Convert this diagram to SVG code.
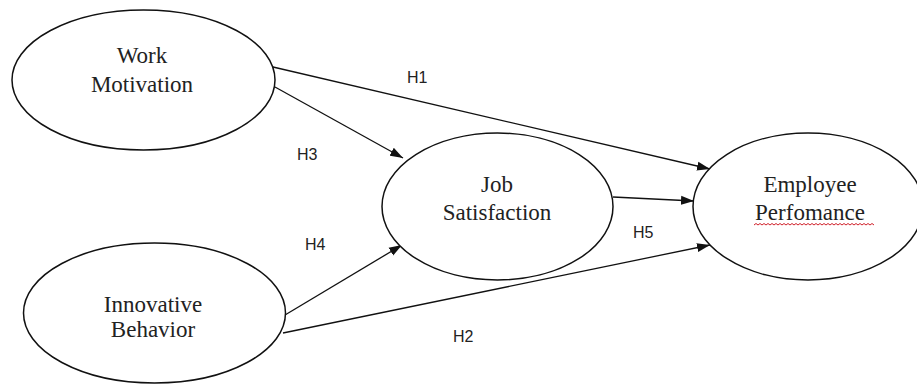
<svg xmlns="http://www.w3.org/2000/svg" width="917" height="385" viewBox="0 0 917 385">
<style>
.node ellipse{fill:#fff;stroke:#111;stroke-width:1.5}
.node text{font-family:"Liberation Serif","Times New Roman",serif;font-size:23px;fill:#222;text-anchor:middle}
.edge line{stroke:#111;stroke-width:1.3;marker-end:url(#arr)}
.lbl{font-family:"Liberation Sans",Arial,sans-serif;font-size:16px;fill:#222}
</style>
<defs>
<marker id="arr" markerUnits="userSpaceOnUse" markerWidth="14" markerHeight="10" refX="13" refY="5" orient="auto">
<path d="M0,0.5 L13,5 L0,9.5 z" fill="#111"/>
</marker>
</defs>
<rect width="917" height="385" fill="#fff"/>
<g id="connectors" class="edge">
<line x1="273" y1="67" x2="710" y2="169"/>
<line x1="275" y1="87" x2="403" y2="158"/>
<line x1="613" y1="197" x2="694" y2="201"/>
<line x1="285" y1="315" x2="402" y2="245"/>
<line x1="283" y1="333" x2="710" y2="245"/>
</g>
<g id="labels" class="lbl">
<text x="407" y="83">H1</text>
<text x="297" y="160">H3</text>
<text x="305" y="250">H4</text>
<text x="633" y="238">H5</text>
<text x="453" y="342">H2</text>
</g>
<g id="work-motivation" class="node">
<ellipse cx="143.5" cy="80" rx="131.5" ry="70"/>
<text x="142" y="63">Work</text>
<text x="142" y="92">Motivation</text>
</g>
<g id="innovative-behavior" class="node">
<ellipse cx="154.5" cy="313" rx="131" ry="70"/>
<text x="153" y="312">Innovative</text>
<text x="153" y="337">Behavior</text>
</g>
<g id="job-satisfaction" class="node">
<ellipse cx="497.5" cy="206.5" rx="115.5" ry="73.5"/>
<text x="497" y="192">Job</text>
<text x="497" y="220">Satisfaction</text>
</g>
<g id="employee-performance" class="node">
<ellipse cx="808" cy="206.5" rx="115" ry="73.5"/>
<text x="810" y="192">Employee</text>
<text x="810" y="220">Perfomance</text>
<path d="M754,225 l2,-1.5 2,1.5 2,-1.5 2,1.5 2,-1.5 2,1.5 2,-1.5 2,1.5 2,-1.5 2,1.5 2,-1.5 2,1.5 2,-1.5 2,1.5 2,-1.5 2,1.5 2,-1.5 2,1.5 2,-1.5 2,1.5 2,-1.5 2,1.5 2,-1.5 2,1.5 2,-1.5 2,1.5 2,-1.5 2,1.5 2,-1.5 2,1.5 2,-1.5 2,1.5 2,-1.5 2,1.5 2,-1.5 2,1.5 2,-1.5 2,1.5 2,-1.5 2,1.5 2,-1.5 2,1.5 2,-1.5 2,1.5 2,-1.5 2,1.5 2,-1.5 2,1.5 2,-1.5 2,1.5 2,-1.5 2,1.5 2,-1.5 2,1.5 2,-1.5 2,1.5 2,-1.5 2,1.5 2,-1.5 2,1.5" fill="none" stroke="#d0202a" stroke-width="1"/>
</g>
</svg>
